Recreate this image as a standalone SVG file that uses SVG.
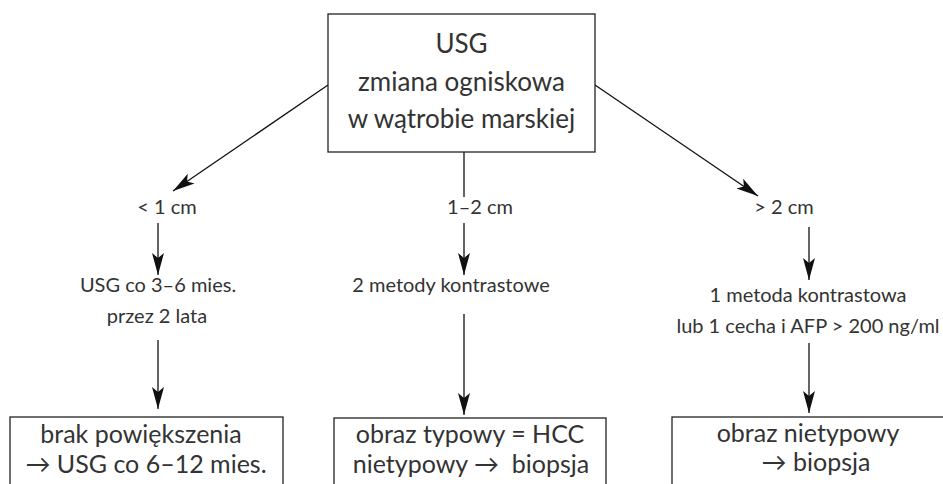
<svg xmlns="http://www.w3.org/2000/svg" width="943" height="484" viewBox="0 0 943 484">
<style>
  .box { fill: #fff; stroke: #222; stroke-width: 1.3; }
  .ln { stroke: #111; stroke-width: 1.3; fill: none; marker-end: url(#ah); }
  text { font-family: Lato, "Open Sans", sans-serif; fill: #333; text-anchor: middle; }
  .big { font-size: 26px; }
  .mid { font-size: 25px; }
  .sm { font-size: 20px; }
</style>
<defs>
  <marker id="ah" markerWidth="24" markerHeight="14" refX="22" refY="7" orient="auto" markerUnits="userSpaceOnUse">
    <path d="M0,1 L22,7 L0,13 L5,7 Z" fill="#111"/>
  </marker>
</defs>
<rect width="943" height="484" fill="#fff"/>
<g id="connectors">
  <line class="ln" x1="328" y1="85" x2="173" y2="191"/>
  <line class="ln" x1="595" y1="85" x2="758" y2="196"/>
  <line x1="464" y1="152" x2="464" y2="197" stroke="#111" stroke-width="1.3"/>
  <line class="ln" x1="158" y1="223" x2="158" y2="275"/>
  <line class="ln" x1="464" y1="223" x2="464" y2="275"/>
  <line class="ln" x1="809" y1="227" x2="809" y2="280"/>
  <line class="ln" x1="158" y1="340" x2="158" y2="409"/>
  <line class="ln" x1="464" y1="314" x2="464" y2="415"/>
  <line class="ln" x1="809" y1="343" x2="809" y2="413"/>
</g>
<g id="top">
  <rect class="box" x="328" y="14" width="267" height="138"/>
  <text class="big" x="461.5" y="53">USG</text>
  <text class="big" x="461.5" y="91">zmiana ogniskowa</text>
  <text class="big" x="461.5" y="128">w wątrobie marskiej</text>
</g>
<g id="lbl-lt1"><text class="sm" x="167" y="214">&lt; 1 cm</text></g>
<g id="lbl-12"><text class="sm" x="480" y="214">1–2 cm</text></g>
<g id="lbl-gt2"><text class="sm" x="784" y="214">&gt; 2 cm</text></g>
<g id="usg-co">
  <text class="sm" x="158" y="292">USG co 3–6 mies.</text>
  <text class="sm" x="157" y="323">przez 2 lata</text>
</g>
<g id="metody"><text class="sm" x="451" y="292">2 metody kontrastowe</text></g>
<g id="metoda">
  <text class="sm" x="808" y="302">1 metoda kontrastowa</text>
  <text class="sm" x="808" y="333">lub 1 cecha i AFP &gt; 200 ng/ml</text>
</g>
<g id="box-left">
  <rect class="box" x="10" y="417" width="273" height="80"/>
  <text class="mid" x="141" y="443">brak powiększenia</text>
  <text class="mid" x="146" y="473">→ USG co 6–12 mies.</text>
</g>
<g id="box-mid">
  <rect class="box" x="334" y="418" width="272" height="80"/>
  <text class="mid" x="470" y="443">obraz typowy = HCC</text>
  <text class="mid" x="471" y="473" style="white-space:pre">nietypowy →  biopsja</text>
</g>
<g id="box-right">
  <rect class="box" x="672" y="417" width="290" height="80"/>
  <text class="mid" x="808" y="442">obraz nietypowy</text>
  <text class="mid" x="816" y="471">→ biopsja</text>
</g>
</svg>
